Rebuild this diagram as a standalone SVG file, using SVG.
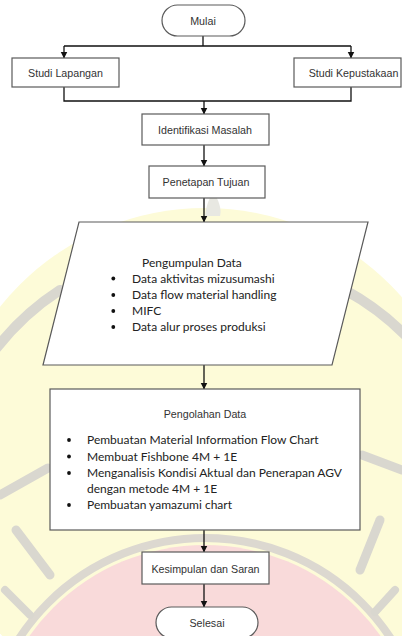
<svg xmlns="http://www.w3.org/2000/svg" width="402" height="636" viewBox="0 0 402 636">
<style>
.box{fill:#fff;stroke:#5a5a5a;stroke-width:1.2}
.lbl{font-family:"Liberation Sans",Arial,sans-serif;font-size:10.7px;fill:#333;text-anchor:middle;dominant-baseline:central}
.body{font-family:Lato,"Liberation Sans",sans-serif;font-size:12px;fill:#222}
.con{fill:none;stroke:#111;stroke-width:1.3}
.dot{fill:#111}
.wm-g{fill:none;stroke:#d9d7cf;stroke-linecap:round}
</style>
<defs>
<marker id="arr" markerWidth="7" markerHeight="8" refX="6.5" refY="3.5" orient="auto" markerUnits="userSpaceOnUse">
<path d="M0,0 L7,3.5 L0,7 Z" fill="#111"/>
</marker>
</defs>
<g id="watermark">
<circle cx="205" cy="470" r="262" fill="#fdfbd8"/>
<circle cx="205" cy="760" r="215" fill="#f9dada"/>
<circle cx="205" cy="760" r="222" fill="none" stroke="#dcd8d0" stroke-width="8"/>
<path class="wm-g" d="M-5,350 A262,262 0 0 1 60,290" stroke-width="10"/>
<path class="wm-g" d="M345,290 A262,262 0 0 1 410,340" stroke-width="10"/>
<path class="wm-g" d="M0,495 L48,468" stroke-width="9"/>
<path class="wm-g" d="M16,530 L50,575" stroke-width="9"/>
<path class="wm-g" d="M5,590 L30,615" stroke-width="8"/>
<path class="wm-g" d="M380,520 L360,570" stroke-width="9"/>
<path class="wm-g" d="M402,470 L362,455" stroke-width="9"/>
<path class="wm-g" d="M395,590 L375,612" stroke-width="8"/>
<path d="M205,216 C206,205 210,196 214,192 C218,200 222,208 220,216 Z" fill="#e8e8e2"/>
</g>
<g id="connectors">
<path class="con" d="M203,36 V46 M64,46 H351"/>
<path class="con" d="M64,46 V58" marker-end="url(#arr)"/>
<path class="con" d="M351,46 V58" marker-end="url(#arr)"/>
<path class="con" d="M64,87 V101 H351 V87"/>
<path class="con" d="M204,101 V114" marker-end="url(#arr)"/>
<path class="con" d="M204,145 V166" marker-end="url(#arr)"/>
<path class="con" d="M204,198 V222" marker-end="url(#arr)"/>
<path class="con" d="M204,365 V389" marker-end="url(#arr)"/>
<path class="con" d="M204,530 V552" marker-end="url(#arr)"/>
<path class="con" d="M204,584 V607" marker-end="url(#arr)"/>
</g>
<g id="mulai">
<rect class="box" x="162" y="5" width="83" height="31" rx="15.5"/>
<text class="lbl" x="203" y="20.5">Mulai</text>
</g>
<g id="studi-lapangan">
<rect class="box" x="12" y="58" width="107" height="29"/>
<text class="lbl" x="65.5" y="72.5">Studi Lapangan</text>
</g>
<g id="studi-kepustakaan">
<rect class="box" x="294" y="58" width="107" height="29"/>
<text class="lbl" x="353.5" y="72.5">Studi Kepustakaan</text>
</g>
<g id="identifikasi">
<rect class="box" x="142" y="114" width="127" height="31"/>
<text class="lbl" x="205" y="129.5">Identifikasi Masalah</text>
</g>
<g id="penetapan">
<rect class="box" x="149" y="166" width="116" height="32"/>
<text class="lbl" x="206" y="182">Penetapan Tujuan</text>
</g>
<g id="pengumpulan">
<polygon class="box" points="79,222 368,222 332,365 43,365"/>
<text class="body" x="142" y="266.5">Pengumpulan Data</text>
<circle class="dot" cx="113.3" cy="278.5" r="1.9"/>
<text class="body" x="132" y="282.5">Data aktivitas mizusumashi</text>
<circle class="dot" cx="113.3" cy="295" r="1.9"/>
<text class="body" x="132" y="299">Data flow material handling</text>
<circle class="dot" cx="113.3" cy="311" r="1.9"/>
<text class="body" x="132" y="315">MIFC</text>
<circle class="dot" cx="113.3" cy="327" r="1.9"/>
<text class="body" x="132" y="331">Data alur proses produksi</text>
</g>
<g id="pengolahan">
<rect class="box" x="50" y="389" width="310" height="141"/>
<text class="lbl" x="205" y="413.5">Pengolahan Data</text>
<circle class="dot" cx="69" cy="440" r="1.9"/>
<text class="body" x="87" y="444">Pembuatan Material Information Flow Chart</text>
<circle class="dot" cx="69" cy="456.5" r="1.9"/>
<text class="body" x="87" y="460.5">Membuat Fishbone 4M + 1E</text>
<circle class="dot" cx="69" cy="473" r="1.9"/>
<text class="body" x="87" y="477">Menganalisis Kondisi Aktual dan Penerapan AGV</text>
<text class="body" x="87" y="492.5">dengan metode 4M + 1E</text>
<circle class="dot" cx="69" cy="505" r="1.9"/>
<text class="body" x="87" y="509">Pembuatan yamazumi chart</text>
</g>
<g id="kesimpulan">
<rect class="box" x="142" y="552" width="127" height="32"/>
<text class="lbl" x="205.5" y="568.5">Kesimpulan dan Saran</text>
</g>
<g id="selesai">
<rect class="box" x="156" y="607" width="102" height="31" rx="15.5"/>
<text class="lbl" x="207" y="622.5">Selesai</text>
</g>
</svg>
